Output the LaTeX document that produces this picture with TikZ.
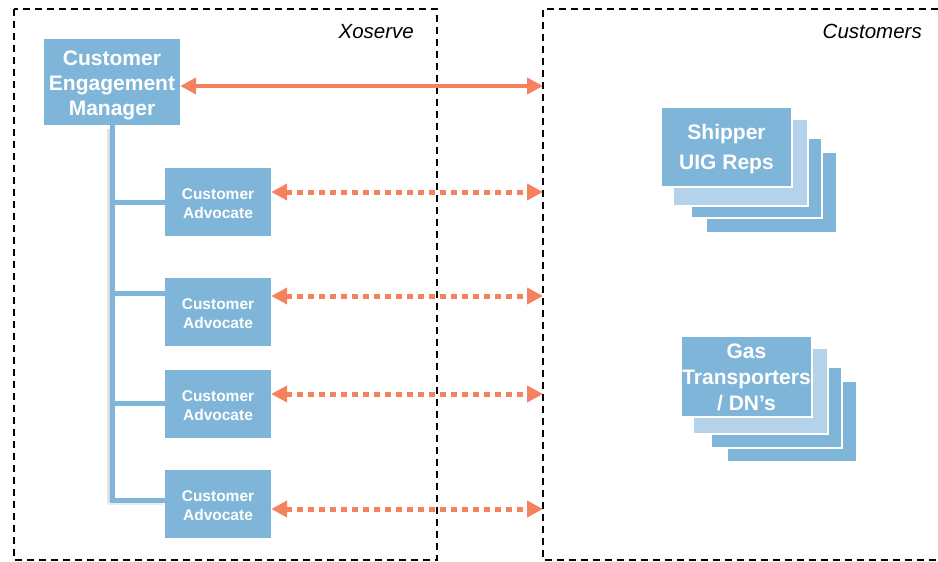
\documentclass[tikz,border=0pt]{standalone}
\usepackage{fontspec}
\setmainfont{Liberation Sans}
\usetikzlibrary{arrows.meta}
\definecolor{boxblue}{RGB}{127,181,216}
\definecolor{lightblue}{RGB}{180,211,234}
\definecolor{arrorange}{RGB}{244,130,95}
\tikzset{
  region/.style={draw=black, line width=1.3pt, dash pattern=on 7pt off 5pt},
  cembox/.style={fill=boxblue, minimum width=136pt, minimum height=86pt, inner sep=0pt},
  cemtext/.style={text=white, font=\bfseries\fontsize{21}{25}\selectfont, align=center, inner sep=0pt},
  advbox/.style={fill=boxblue, minimum width=106pt, minimum height=68pt, inner sep=0pt},
  advtext/.style={text=white, font=\bfseries\fontsize{15.5}{19}\selectfont, align=center, inner sep=0pt},
  stackbox/.style={fill=boxblue, draw=white, line width=2pt},
  stacklight/.style={fill=lightblue, draw=white, line width=2pt},
  stacktext/.style={text=white, font=\bfseries\fontsize{21}{26}\selectfont, align=center, inner sep=0pt},
  tree/.style={draw=boxblue, line width=5pt},
  treeshadow/.style={draw=black!60, opacity=0.12, line width=4pt},
  solidarrow/.style={draw=arrorange, line width=4pt, {Triangle[length=16pt,width=16pt]}-{Triangle[length=16pt,width=16pt]}},
  dotarrow/.style={draw=arrorange, line width=5pt, dash pattern=on 6pt off 5pt, {Triangle[length=16pt,width=16pt]}-{Triangle[length=16pt,width=16pt]}},
  regionlabel/.style={font=\itshape\fontsize{20.5}{24}\selectfont, anchor=base east, inner sep=0pt}
}
\begin{document}
\begin{tikzpicture}[x=1pt,y=-1pt]
\useasboundingbox (0,0) rectangle (938,562);
% regions
\draw[region] (14,9) rectangle (437,560);
\draw[region] (950,9) -- (543,9) -- (543,560) -- (950,560);
\node[regionlabel] (xolabel) at (414,38) {Xoserve};
\node[regionlabel] (cuslabel) at (922,38) {Customers};
% CEM
\node[cembox] (cem) at (112,82) {};
\node[cemtext] (cemlabel) at (112,85) {Customer\\Engagement\\Manager};
% advocates
\node[advbox] (adv1) at (218,202) {};
\node[advbox] (adv2) at (218,312) {};
\node[advbox] (adv3) at (218,403.5) {};
\node[advbox] (adv4) at (218,504) {};
\node[advtext] (adv1t) at (218,204) {Customer\\Advocate};
\node[advtext] (adv2t) at (218,314) {Customer\\Advocate};
\node[advtext] (adv3t) at (218,405.5) {Customer\\Advocate};
\node[advtext] (adv4t) at (218,506) {Customer\\Advocate};
% tree shadow
\draw[treeshadow] (109,129) -- (109,503) -- (163,503);
\draw[treeshadow] (110,129) -- (110,502);
% tree
\coordinate (ttop) at (112.5,125);
\coordinate (tb1) at (112.5,202);
\coordinate (tb2) at (112.5,293);
\coordinate (tb3) at (112.5,403);
\coordinate (tb4) at (112.5,500);
\draw[tree] (ttop) -- (tb4) -- (adv4.west |- tb4);
\draw[tree] (tb1) -- (adv1.west |- tb1);
\draw[tree] (tb2) -- (adv2.west |- tb2);
\draw[tree] (tb3) -- (adv3.west |- tb3);
% customer side anchors
\coordinate (c0) at (543,86);
\coordinate (c1) at (543,192);
\coordinate (c2) at (543,296);
\coordinate (c3) at (543,394);
\coordinate (c4) at (543,509);
% arrows
\draw[solidarrow] (cem.east |- c0) -- (c0);
\draw[dotarrow] (adv1.east |- c1) -- (c1);
\draw[dotarrow] (adv2.east |- c2) -- (c2);
\draw[dotarrow] (adv3.east |- c3) -- (c3);
\draw[dotarrow] (adv4.east |- c4) -- (c4);
% shipper stack
\draw[stackbox] (706,152) rectangle (837,233);
\draw[stackbox] (691,138) rectangle (822,218);
\draw[stacklight] (673,119) rectangle (808,206);
\draw[stackbox] (661,107) rectangle (792,187);
\node[stacktext, font=\bfseries\fontsize{21}{30}\selectfont] (shipper) at (726.5,149) {Shipper\\UIG Reps};
% gas stack
\draw[stackbox] (727,381) rectangle (857,462);
\draw[stackbox] (711,367) rectangle (842,448);
\draw[stacklight] (693,348) rectangle (828,434);
\draw[stackbox] (681,336) rectangle (812,417);
\node[stacktext] (gas) at (746.5,377) {Gas\\Transporters\\/ DN’s};
\end{tikzpicture}
\end{document}
